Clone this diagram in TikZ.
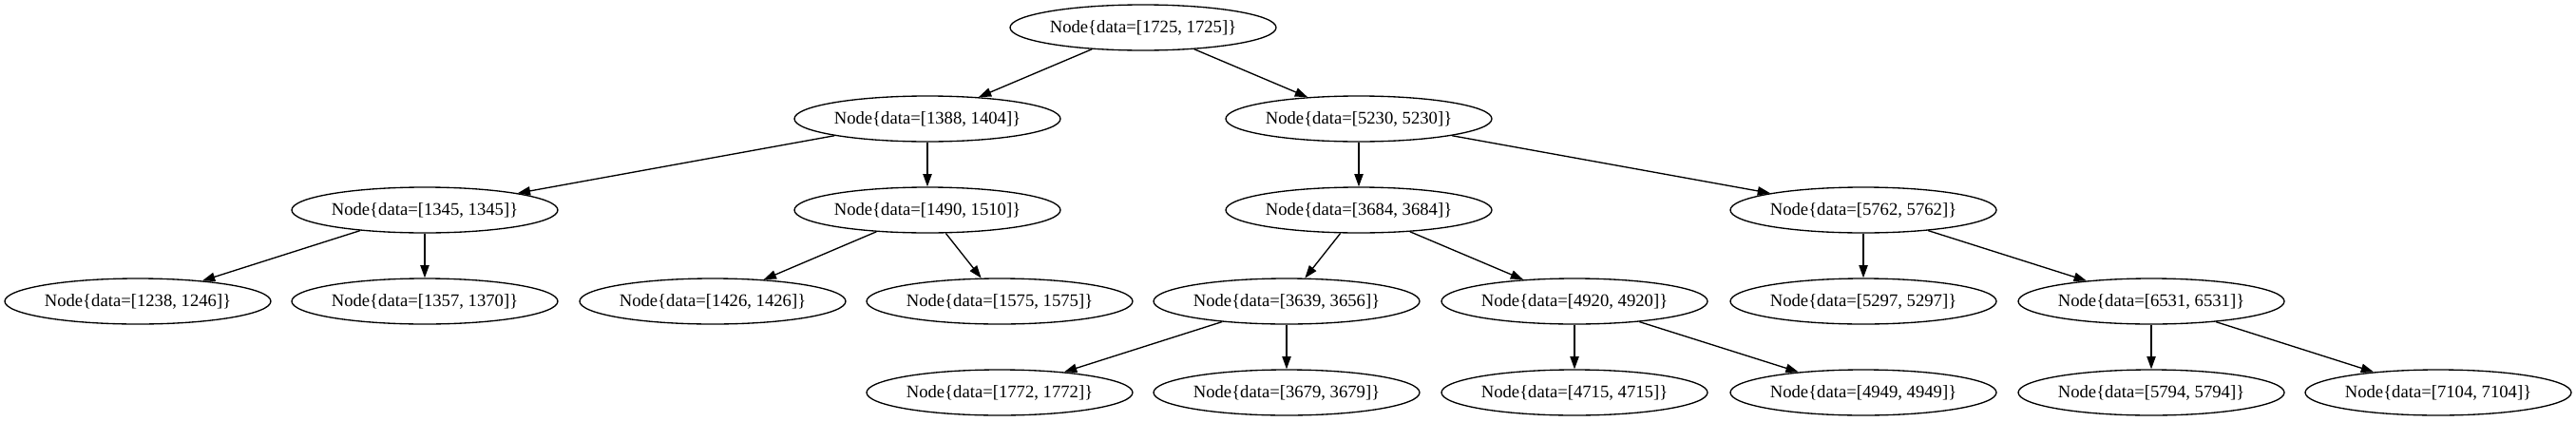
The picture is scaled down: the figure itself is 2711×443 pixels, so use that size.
\documentclass[tikz,border=0pt]{standalone}
\usepackage{fontspec}
\setmainfont{Liberation Serif}
\usetikzlibrary{shapes.geometric,arrows.meta}
\tikzset{
  tnode/.style={draw, ellipse, line width=1pt, minimum width=210pt, minimum height=36pt, inner sep=0pt, font=\fontsize{14}{16}\selectfont},
  tedge/.style={line width=1pt, -{Triangle[length=10pt,width=7pt]}}
}
\begin{document}
\begin{tikzpicture}[x=0.75pt,y=-0.75pt]
\useasboundingbox (0,0) rectangle (2711,443);
% level 0
\node[tnode] (n1725) at (1203,29) {Node\{data=[1725, 1725]\}};
% level 1
\node[tnode] (n1388) at (976,125) {Node\{data=[1388, 1404]\}};
\node[tnode] (n5230) at (1430,125) {Node\{data=[5230, 5230]\}};
% level 2
\node[tnode] (n1345) at (447,221) {Node\{data=[1345, 1345]\}};
\node[tnode] (n1490) at (976,221) {Node\{data=[1490, 1510]\}};
\node[tnode] (n3684) at (1430,221) {Node\{data=[3684, 3684]\}};
\node[tnode] (n5762) at (1961,221) {Node\{data=[5762, 5762]\}};
% level 3
\node[tnode] (n1238) at (145,317) {Node\{data=[1238, 1246]\}};
\node[tnode] (n1357) at (447,317) {Node\{data=[1357, 1370]\}};
\node[tnode] (n1426) at (750,317) {Node\{data=[1426, 1426]\}};
\node[tnode] (n1575) at (1052,317) {Node\{data=[1575, 1575]\}};
\node[tnode] (n3639) at (1354,317) {Node\{data=[3639, 3656]\}};
\node[tnode] (n4920) at (1657,317) {Node\{data=[4920, 4920]\}};
\node[tnode] (n5297) at (1961,317) {Node\{data=[5297, 5297]\}};
\node[tnode] (n6531) at (2264,317) {Node\{data=[6531, 6531]\}};
% level 4
\node[tnode] (n1772) at (1052,413) {Node\{data=[1772, 1772]\}};
\node[tnode] (n3679) at (1354,413) {Node\{data=[3679, 3679]\}};
\node[tnode] (n4715) at (1657,413) {Node\{data=[4715, 4715]\}};
\node[tnode] (n4949) at (1961,413) {Node\{data=[4949, 4949]\}};
\node[tnode] (n5794) at (2264,413) {Node\{data=[5794, 5794]\}};
\node[tnode] (n7104) at (2566,413) {Node\{data=[7104, 7104]\}};
% edges
\draw[tedge] (n1725) -- (n1388);
\draw[tedge] (n1725) -- (n5230);
\draw[tedge] (n1388) -- (n1345);
\draw[tedge] (n1388) -- (n1490);
\draw[tedge] (n5230) -- (n3684);
\draw[tedge] (n5230) -- (n5762);
\draw[tedge] (n1345) -- (n1238);
\draw[tedge] (n1345) -- (n1357);
\draw[tedge] (n1490) -- (n1426);
\draw[tedge] (n1490) -- (n1575);
\draw[tedge] (n3684) -- (n3639);
\draw[tedge] (n3684) -- (n4920);
\draw[tedge] (n5762) -- (n5297);
\draw[tedge] (n5762) -- (n6531);
\draw[tedge] (n3639) -- (n1772);
\draw[tedge] (n3639) -- (n3679);
\draw[tedge] (n4920) -- (n4715);
\draw[tedge] (n4920) -- (n4949);
\draw[tedge] (n6531) -- (n5794);
\draw[tedge] (n6531) -- (n7104);
\end{tikzpicture}
\end{document}
